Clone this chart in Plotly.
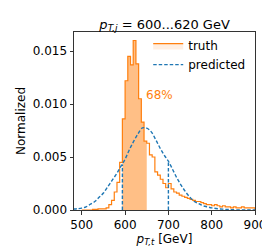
import plotly.graph_objects as go

# ---- data ----
bin_start = 500.0
bin_width = 6.25
truth_values = [
    0.0, 0.0, 0.0, 0.0, 0.00005, 0.00005, 0.0001, 0.0001, 0.0001, 0.0002,   # k=0..9
    0.0005, 0.0009, 0.0017, 0.0026, 0.0045, 0.0086, 0.0122, 0.0145, 0.0137, 0.0160,  # 10..19
    0.0138, 0.0105, 0.0083, 0.0065, 0.0063, 0.0052, 0.0050, 0.0036, 0.0033, 0.0029,  # 20..29
    0.0025, 0.0021, 0.0025, 0.0020, 0.0017, 0.0016, 0.0014, 0.0013, 0.0012, 0.0011,  # 30..39
    0.0010, 0.0009, 0.0008, 0.0008, 0.0007, 0.0006, 0.0005, 0.0005, 0.0004, 0.0005,  # 40..49
    0.0004, 0.0003, 0.0004, 0.0003, 0.0003, 0.0002, 0.0003, 0.0002, 0.0002, 0.0003,  # 50..59
    0.0002, 0.0002, 0.0002, 0.0002,                                                  # 60..63
]
shade_first_bin = 15   # 68% interval of truth: bins 15..23
shade_last_bin = 23

pred_x = [480, 490, 500, 510, 520, 530, 540, 550, 560, 570, 580, 590, 600, 610, 620,
          630, 640, 650, 660, 670, 680, 690, 700, 710, 720, 730, 740, 750, 760, 770,
          780, 790, 800, 810, 820, 830, 840, 860, 880, 900]
pred_y = [0.00008, 0.00012, 0.00018, 0.0003, 0.00055, 0.0008, 0.0012, 0.0016, 0.0022,
          0.0028, 0.0034, 0.0041, 0.0048, 0.0057, 0.0065, 0.0072, 0.00775, 0.00772,
          0.0074, 0.0067, 0.0059, 0.0052, 0.0046, 0.0038, 0.0030, 0.0023, 0.0017,
          0.0012, 0.0008, 0.0006, 0.0004, 0.0003, 0.0002, 0.00014, 0.0001, 0.00006,
          0.00004, 0.00001, 0.0, 0.0]

pred_interval_x = [593.75, 700.0]
pred_interval_h = [0.0043, 0.0047]

title_text = "<i>p</i><sub><i>T,j</i></sub> = 600...620 GeV"
xlabel = "<i>p</i><sub><i>T,t</i></sub> [GeV]"
ylabel = "Normalized"
label_68 = "68%"
x_ticks = [500, 600, 700, 800, 900]
y_ticks = [0.0, 0.005, 0.010, 0.015]

ORANGE = "#ff7f0e"
BLUE = "#1f77b4"
FONT = "DejaVu Sans"
DASH = "3.5px,2px"

edges = [bin_start + bin_width * i for i in range(len(truth_values) + 1)]

fig = go.Figure()

# shaded 68% region of truth
sx = edges[shade_first_bin:shade_last_bin + 2]
sy = truth_values[shade_first_bin:shade_last_bin + 1]
sy = sy + [sy[-1]]
fig.add_trace(go.Scatter(x=sx, y=sy, mode="lines", line=dict(shape="hv", width=0),
                         fill="tozeroy", fillcolor="rgba(255,127,14,0.5)",
                         showlegend=False, hoverinfo="skip"))

# truth step outline
hx = [edges[0]] + edges + [edges[-1]]
hy = [0.0] + truth_values + [truth_values[-1], 0.0]
fig.add_trace(go.Scatter(x=hx, y=hy, mode="lines",
                         line=dict(shape="hv", color=ORANGE, width=1.2),
                         showlegend=False))

# legend entry for truth
fig.add_trace(go.Scatter(x=[None, None, None], y=[None, None, None], mode="lines",
                         fill="toself", fillcolor="rgba(255,127,14,0.12)",
                         line=dict(color=ORANGE, width=1.2), name="truth"))

# predicted curve
fig.add_trace(go.Scatter(x=pred_x, y=pred_y, mode="lines",
                         line=dict(shape="spline", smoothing=1.0, color=BLUE,
                                   width=1.4, dash=DASH),
                         name="predicted"))

# predicted interval lines
for xv, hv in zip(pred_interval_x, pred_interval_h):
    fig.add_trace(go.Scatter(x=[xv, xv], y=[0, hv], mode="lines",
                             line=dict(color=BLUE, width=1.4, dash=DASH),
                             showlegend=False))

fig.add_annotation(x=680, y=0.0109, text=label_68, showarrow=False,
                   font=dict(family=FONT, size=12, color=ORANGE))

axis_common = dict(showline=True, linecolor="#333", linewidth=1, mirror=True,
                   ticks="outside", ticklen=3.5, tickwidth=1, tickcolor="#333",
                   showgrid=False, zeroline=False,
                   tickfont=dict(family=FONT, size=12, color="black"))

fig.update_layout(
    width=270, height=246,
    margin=dict(l=59, r=14, t=24, b=37),
    paper_bgcolor="white", plot_bgcolor="white",
    title=dict(text=title_text, x=0.58, xanchor="center", y=0.935, yanchor="middle",
               font=dict(family=FONT, size=13, color="black")),
    xaxis=dict(range=[482, 900], tickvals=x_ticks,
               title=dict(text=xlabel, font=dict(family=FONT, size=12, color="black"),
                          standoff=2),
               **axis_common),
    yaxis=dict(range=[0, 0.0168], tickvals=y_ticks, tickformat=".3f",
               title=dict(text=ylabel, font=dict(family=FONT, size=12, color="black"),
                          standoff=4),
               **axis_common),
    legend=dict(x=0.41, y=1.005, xanchor="left", yanchor="top",
                bgcolor="rgba(0,0,0,0)", font=dict(family=FONT, size=12, color="black"),
                tracegroupgap=0, itemwidth=30),
    showlegend=True,
)

fig.write_html("out.html")
